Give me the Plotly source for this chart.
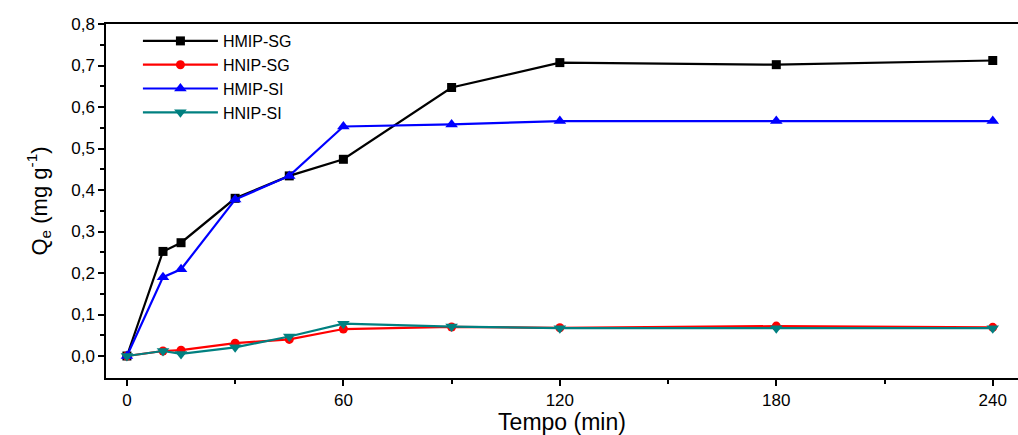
import plotly.graph_objects as go

tempo = [0, 10, 15, 30, 45, 60, 90, 120, 180, 240]
hmip_sg = [0.0, 0.252, 0.273, 0.380, 0.434, 0.474, 0.647, 0.707, 0.702, 0.712]
hnip_sg = [0.0, 0.012, 0.014, 0.031, 0.040, 0.065, 0.070, 0.068, 0.072, 0.069]
hmip_si = [0.0, 0.190, 0.209, 0.377, 0.434, 0.553, 0.558, 0.566, 0.566, 0.566]
hnip_si = [0.0, 0.012, 0.005, 0.021, 0.047, 0.078, 0.071, 0.067, 0.067, 0.067]

x_ticks = [0, 60, 120, 180, 240]
y_ticks = [0, 0.1, 0.2, 0.3, 0.4, 0.5, 0.6, 0.7, 0.8]

series = [
    ("HMIP-SG", hmip_sg, "#000000", "square", 9),
    ("HNIP-SG", hnip_sg, "#ff0000", "circle", 9),
    ("HMIP-SI", hmip_si, "#0000ff", "triangle-up", 11),
    ("HNIP-SI", hnip_si, "#008080", "triangle-down", 11),
]

fig = go.Figure()
for name, vals, color, sym, sz in series:
    fig.add_trace(go.Scatter(
        x=tempo, y=vals, name=name, mode="lines+markers",
        line=dict(color=color, width=2.2),
        marker=dict(symbol=sym, size=sz, color=color),
    ))

fig.update_layout(
    width=1018, height=435,
    margin=dict(l=106, r=0, t=24, b=57),
    paper_bgcolor="white", plot_bgcolor="white",
    font=dict(family="Liberation Sans, Arial, sans-serif", color="#000000"),
    separators=",.",
    legend=dict(
        x=0.035, y=1.0, xanchor="left", yanchor="top",
        font=dict(size=16), bgcolor="rgba(0,0,0,0)",
        tracegroupgap=0, itemwidth=75,
    ),
    xaxis=dict(
        range=[-5.8, 247], tickvals=x_ticks,
        ticks="outside", ticklen=6, tickwidth=1.5, tickcolor="#000",
        showline=True, linecolor="#000", linewidth=1.5, mirror=True,
        showgrid=False, zeroline=False, automargin=False,
        tickfont=dict(size=17),
        minor=dict(tickvals=[30, 90, 150, 210], ticks="outside", ticklen=4, tickcolor="#000"),
        title=dict(text="Tempo (min)", font=dict(size=23), standoff=5),
    ),
    yaxis=dict(
        range=[-0.053, 0.8], tickvals=y_ticks,
        tickformat=".1f",
        ticks="outside", ticklen=6, tickwidth=1.5, tickcolor="#000",
        showline=True, linecolor="#000", linewidth=1.5,
        showgrid=False, zeroline=False, automargin=False,
        tickfont=dict(size=17),
        minor=dict(tickvals=[0.05, 0.15, 0.25, 0.35, 0.45, 0.55, 0.65, 0.75],
                   ticks="outside", ticklen=4, tickcolor="#000"),
        title=dict(text="Q<sub>e</sub> (mg g<sup>-1</sup>)", font=dict(size=22), standoff=18),
    ),
)

fig.write_html("out.html", config={"displayModeBar": False},
               post_script="document.body.style.margin='0';document.body.style.overflow='hidden';")
